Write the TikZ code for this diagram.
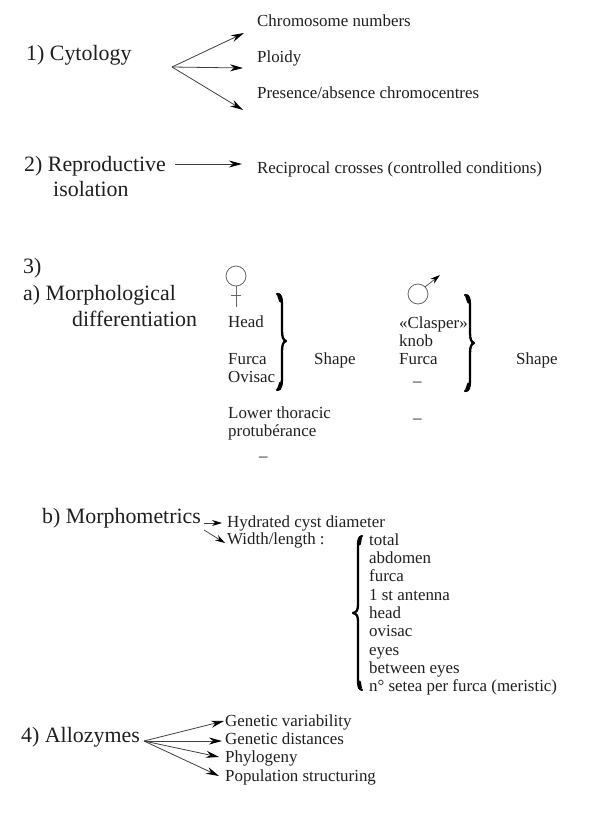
\documentclass[tikz,border=0pt]{standalone}
\usepackage{fontspec}
\setmainfont{Liberation Serif}
\usetikzlibrary{arrows.meta}
\colorlet{ink}{black!88}
\tikzset{
  big/.style={anchor=base west,inner sep=0pt,text=ink,font=\fontsize{21.9}{24}\selectfont},
  small/.style={anchor=base west,inner sep=0pt,yshift=-0.7pt,text=ink,font=\fontsize{16.9}{19}\selectfont},
  arr/.style={draw=black!75,line width=0.8pt,-{Stealth[length=13pt,width=7pt,black]}},
  sarr/.style={draw=black!75,line width=0.7pt,-{Stealth[length=10pt,width=6pt,black]}},
  bracel/.style={draw=black,line width=2.3pt,line cap=round,line join=round},
  braceend/.style={draw=black,line width=3.8pt,line cap=round},
  sym/.style={draw=black!60,line width=0.8pt}
}
\begin{document}
\begin{tikzpicture}[x=1pt,y=-1pt]
\useasboundingbox (0,0) rectangle (600,819);
\fill[white] (0,0) rectangle (600,819);
% 1 Cytology
\node[big] (cyt) at (26,60) {1) Cytology};
\node[small] (chrom) at (257,26) {Chromosome numbers};
\node[small] (ploidy) at (257,62) {Ploidy};
\node[small] (pres) at (257,98) {Presence/absence chromocentres};
\coordinate (hubc) at (172,67);
\coordinate (c1) at (244,33);
\coordinate (c2) at (243,68);
\coordinate (c3) at (243,110);
\draw[arr] (hubc) -- (c1);
\draw[arr] (hubc) -- (c2);
\draw[arr] (hubc) -- (c3);
% 2 Reproductive
\node[big] (rep) at (24,171) {2) Reproductive};
\node[big] (iso) at (53,196) {isolation};
\node[small] (rec) at (257,173) {Reciprocal crosses (controlled conditions)};
\coordinate (r0) at (175,164);
\coordinate (r1) at (242,164);
\draw[arr] (r0) -- (r1);
% 3 a
\node[big] (three) at (23,273) {3)};
\node[big] (morph) at (23,300) {a) Morphological};
\node[big] (diff) at (72,326) {differentiation};
% female
\draw[sym] (236,276) circle (10);
\draw[sym] (236,286) -- (236,307);
\draw[sym] (231,295) -- (241,295);
\node[small] (head) at (228,327) {Head};
\node[small] (furf) at (228,364) {Furca};
\node[small] (ovi) at (228,382) {Ovisac};
\node[small] (low) at (228,418) {Lower thoracic};
\node[small] (prot) at (228,436) {protubérance};
\node[small] (dashf) at (259,461) {–};
\draw[bracel] (277,294) .. controls (281,294) and (282,298) .. (282,305) -- (282,330) .. controls (282,337) and (283,340) .. (286,341) .. controls (283,342) and (282,345) .. (282,352) -- (282,378) .. controls (282,385) and (281,389) .. (277,390);
\draw[braceend] (279,295) -- (281,301);
\draw[braceend] (279,389) -- (281,383);
\node[small] (shape1) at (314,364) {Shape};
% male
\draw[sym] (418,294) circle (10);
\coordinate (m0) at (425,287);
\coordinate (m1) at (440,275);
\draw[sarr] (m0) -- (m1);
\node[small] (clasp) at (399,328) {«Clasper»};
\node[small] (knob) at (399,346) {knob};
\node[small] (furm) at (399,364) {Furca};
\node[small] (dashm1) at (413,386) {–};
\node[small] (dashm2) at (413,423) {–};
\draw[bracel] (465,295) .. controls (469,295) and (470,299) .. (470,306) -- (470,332) .. controls (470,339) and (471,342) .. (474,343) .. controls (471,344) and (470,347) .. (470,354) -- (470,380) .. controls (470,387) and (469,391) .. (465,391);
\draw[braceend] (467,296) -- (469,302);
\draw[braceend] (467,390) -- (469,384);
\node[small] (shape2) at (516,364) {Shape};
% b
\node[big] (bm) at (42,523) {b) Morphometrics};
\node[small] (hyd) at (227,527) {Hydrated cyst diameter};
\node[small] (wid) at (227,544) {Width/length :};
\coordinate (b0) at (204,523);
\coordinate (b1) at (222,523);
\coordinate (b2) at (204,530);
\coordinate (b3) at (225,543);
\draw[sarr] (b0) -- (b1);
\draw[sarr] (b2) -- (b3);
\draw[bracel] (362,536) .. controls (359,537) and (358,540) .. (358,546) -- (358,604) .. controls (358,610) and (357,612) .. (353,613) .. controls (357,614) and (358,616) .. (358,622) -- (358,680) .. controls (358,686) and (359,689) .. (362,690);
\draw[braceend] (360,538) -- (359,544);
\draw[braceend] (360,688) -- (359,682);
\node[small] (l1) at (369,545) {total};
\node[small] (l2) at (369,563) {abdomen};
\node[small] (l3) at (369,581) {furca};
\node[small] (l4) at (369,600) {1 st antenna};
\node[small] (l5) at (369,618) {head};
\node[small] (l6) at (369,636) {ovisac};
\node[small] (l7) at (369,655) {eyes};
\node[small] (l8) at (369,673) {between eyes};
\node[small] (l9) at (369,691) {n° setea per furca (meristic)};
% 4
\node[big] (allo) at (21,742) {4) Allozymes};
\node[small] (g1) at (225,726) {Genetic variability};
\node[small] (g2) at (225,744) {Genetic distances};
\node[small] (g3) at (225,762) {Phylogeny};
\node[small] (g4) at (225,781) {Population structuring};
\coordinate (huba) at (144,741);
\coordinate (a1) at (224,721);
\coordinate (a2) at (222,741);
\coordinate (a3) at (219,757);
\coordinate (a4) at (219,776);
\draw[arr] (huba) -- (a1);
\draw[arr] (huba) -- (a2);
\draw[arr] (huba) -- (a3);
\draw[arr] (huba) -- (a4);
\end{tikzpicture}
\end{document}
